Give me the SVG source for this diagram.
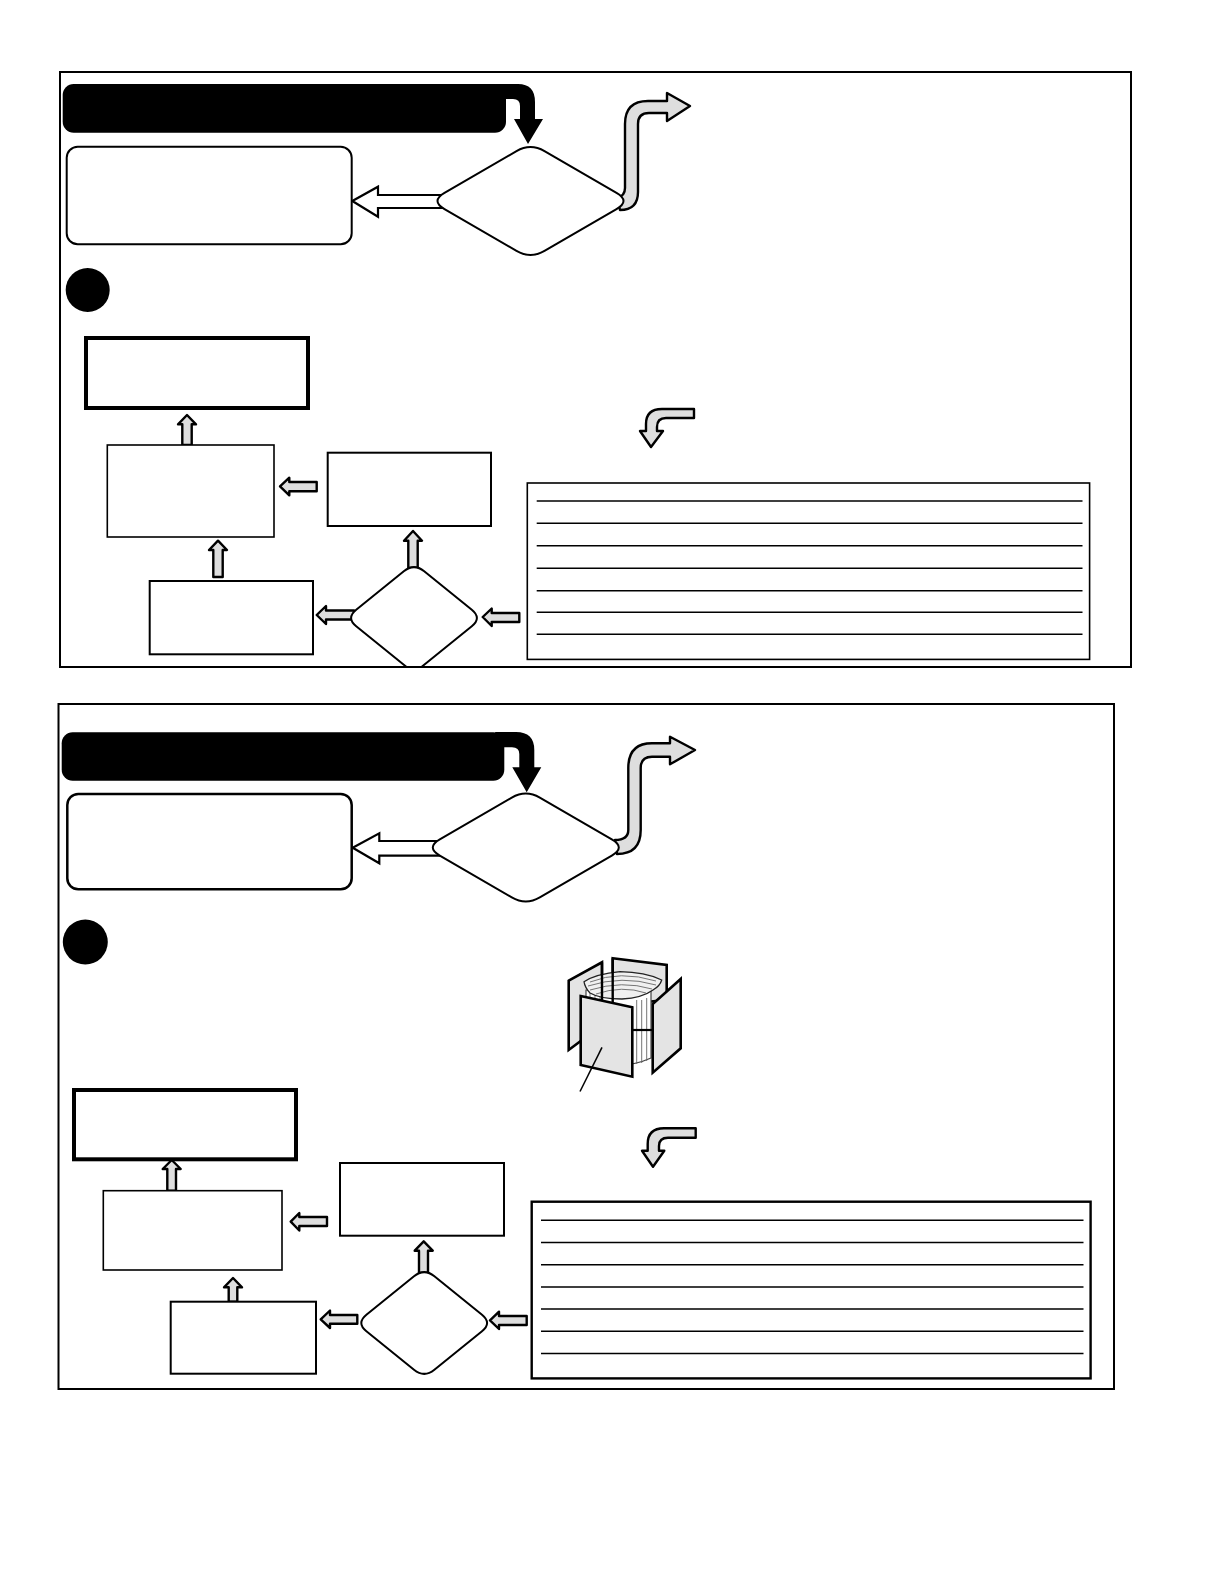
<svg xmlns="http://www.w3.org/2000/svg" width="1225" height="1585" viewBox="0 0 1225 1585">
<style>
.frame{fill:#fff;stroke:#000;stroke-width:2}
.node{fill:#fff;stroke:#000;stroke-width:2}
.thin{fill:#fff;stroke:#000;stroke-width:1.6}
.thick{fill:#fff;stroke:#000;stroke-width:4}
.black{fill:#000;stroke:none}
.white{fill:#fff;stroke:#000;stroke-width:2.2}
.gray{fill:#dedede;stroke:#000;stroke-width:2.4;stroke-linejoin:round}
.rule{stroke:#000;stroke-width:1.5;fill:none}
.panel{fill:#e4e4e4;stroke:#000;stroke-width:2.6;stroke-linejoin:miter}
.fin{stroke:#666;stroke-width:.9;fill:none}
</style>
<rect width="1225" height="1585" fill="#fff"/>
<g id="frames">
<rect class="frame" x="60" y="72" width="1071" height="595"/>
<rect class="frame" x="58.500" y="704" width="1055.500" height="685"/>
</g>
<g id="connectors">
<path class="white" d="M352.300 201L378 186.700V195H445V208H378V216.700Z"/>
<path class="gray" d="M620 210Q638 210 638 192V124Q638 113 649 113H667V121L690 106L667 93V101H648Q625 101 625 124V188Q625 196 617 198Z"/>
<path class="black" d="M495 84H518Q535 84 535 102V119H543L528 144L514 119H520V106Q520 99 513 99H500Z"/>
<path class="gray" d="M187 415L196 424.300H191.700V445H182.300V424.300H178Z"/>
<path class="gray" d="M218 540.700L227 550H222.700V577H213.300V550H209Z"/>
<path class="gray" d="M413 531L422 540.700H417.700V568H408.300V540.700H404Z"/>
<path class="gray" d="M280 486.300L289.300 477.700V482H316.700V491.300H289.300V495.300Z"/>
<path class="gray" d="M316.700 615L326 606V610.500H354V619.500H326V624Z"/>
<path class="gray" d="M482.700 617L491.700 608.500V613H519.300V622H491.700V626Z"/>
<path class="gray" d="M694 409V418H666Q657 418 657 427V431H663L651 447L640 431H646V424Q646 409 662 409Z"/>
<path class="white" d="M352.700 847.700L379.300 833.300V841H440V855.700H379.300V863.300Z"/>
<path class="gray" d="M617 854Q640.700 854 640.700 830V768Q640.700 756.700 652 756.700H670V764.300L695 750L670 736.700V743.300H652Q628.300 743.300 628.300 768V830Q628.300 840 615 840Z"/>
<path class="black" d="M495 732H516Q534.300 732 534.300 750V767.300H541.300L526.700 792.300L512.300 767.300H519.300V754Q519.300 747.300 512 747.300H500Z"/>
<path class="gray" d="M171.700 1160L180.700 1169H176V1190.700H167.300V1169H162.700Z"/>
<path class="gray" d="M233 1278L242 1287.300H237.300V1301.700H228.700V1287.300H224Z"/>
<path class="gray" d="M423.700 1241.300L432.700 1250.700H428V1273H419V1250.700H414.700Z"/>
<path class="gray" d="M290.700 1221.700L299.300 1213V1217H327V1226H299.300V1230.500Z"/>
<path class="gray" d="M320.700 1319.300L330 1310.500V1315H357.300V1323.700H330V1328Z"/>
<path class="gray" d="M490 1320.300L499 1311.700V1316H526.700V1325H499V1329Z"/>
<path class="gray" d="M695.700 1128.300V1137.700H668Q659 1137.700 659 1146V1150.700H664.300L653 1166.700L642 1150.700H647.700V1144Q647.700 1128.300 664 1128.300Z"/>
</g>
<g id="bar-1"><rect class="black" x="62.700" y="84" width="443.300" height="48.700" rx="11"/></g>
<g id="decision-1"><path class="node" d="M444.500 192.900L516.500 151.100Q530.500 143 544.500 151.100L616.500 192.900Q630.500 201 616.500 209.100L544.500 250.900Q530.500 259 516.500 250.900L444.500 209.100Q430.500 201 444.500 192.900Z"/></g>
<g id="result-1"><rect class="node" x="66.700" y="146.700" width="285" height="97.600" rx="11"/></g>
<g id="step-marker-1"><circle class="black" cx="87.700" cy="290" r="22"/></g>
<g id="outcome-1"><rect class="thick" x="86" y="338" width="222" height="70"/></g>
<g id="box-1a"><rect class="thin" x="107.300" y="445" width="166.700" height="92"/></g>
<g id="box-1b"><rect class="node" x="327.700" y="452.700" width="163.300" height="73.300"/></g>
<g id="box-1c"><rect class="node" x="149.700" y="581" width="163.300" height="73.300"/></g>
<g id="decision-2"><path class="node" d="M356.200 609.750L403.800 571.250Q414 563 424.200 571.250L471.800 609.750Q482 618 471.800 626.250L424.200 664.750L421.400 667H406.600L403.800 664.750L356.200 626.250Q346 618 356.200 609.750Z"/></g>
<g id="list-1">
<rect class="thin" x="527.300" y="483" width="562.300" height="176.400"/>
<path class="rule" d="M536.700 501H1082.500M536.700 523.300H1082.500M536.700 545.700H1082.500M536.700 568.300H1082.500M536.700 590.700H1082.500M536.700 612.300H1082.500M536.700 634.300H1082.500"/>
</g>
<g id="bar-2"><rect class="black" x="61.700" y="732.300" width="442.600" height="48.400" rx="11"/></g>
<g id="decision-3"><path class="node" d="M439.800 839.400L511.800 797.600Q525.800 789.500 539.800 797.600L611.800 839.400Q625.800 847.500 611.800 855.600L539.800 897.400Q525.800 905.500 511.800 897.400L439.800 855.600Q425.800 847.500 439.800 839.400Z"/></g>
<g id="result-2"><rect class="node" style="stroke-width:2.500" x="67.300" y="794" width="284.400" height="95.300" rx="11"/></g>
<g id="step-marker-2"><circle class="black" cx="85.300" cy="942" r="22.500"/></g>
<g id="illustration">
<path class="panel" d="M568.700 980.700L602 962.300V1025L568.700 1050Z"/>
<path class="panel" d="M612.700 958.300L666.700 965V1000L612.700 1005Z"/>
<path d="M586 990V1058Q620 1072 651 1058V990Z" fill="#fff" stroke="#444" stroke-width="1.200"/>
<path class="fin" d="M590 992V1060M595 995V1061M600 997V1062M636.700 1000V1064M641.700 1000V1063M646.700 998V1061"/>
<path d="M584 981.700Q596 974 620 971.700Q645 972 661.700 980Q660 986 653 990Q642 998 622 999Q600 999 590 993Q585 988 584 981.700Z" fill="#f0f0f0" stroke="#222" stroke-width="1.300"/>
<path class="fin" d="M590 982Q620 970 656 981M588 986Q622 975 656 985M590 990Q622 980 652 989M596 994Q622 985 646 993"/>
<path d="M602 962.300V1000M612.700 958.300V1003" stroke="#000" stroke-width="2.400" fill="none"/>
<path d="M631.700 1030H652.700" stroke="#000" stroke-width="2.200" fill="none"/>
<path class="panel" d="M680.700 979V1048.300L652.700 1072.700V1004Z"/>
<path class="panel" d="M580.700 996L632.300 1007.300V1076.700L580.700 1065Z"/>
<path d="M602 1047.300L580 1091.500" stroke="#000" stroke-width="1.500" fill="none"/>
</g>
<g id="outcome-2"><rect class="thick" x="74" y="1090" width="222" height="69.300"/></g>
<g id="box-2a"><rect class="thin" x="103.300" y="1190.700" width="178.700" height="79.300"/></g>
<g id="box-2b"><rect class="node" x="340" y="1163" width="164" height="72.700"/></g>
<g id="box-2c"><rect class="node" x="170.700" y="1301.700" width="145.300" height="72"/></g>
<g id="decision-4"><path class="node" d="M366.400 1314.750L414 1276.250Q424.200 1268 434.400 1276.250L482 1314.750Q492.200 1323 482 1331.250L434.400 1369.750Q424.200 1378 414 1369.750L366.400 1331.250Q356.200 1323 366.400 1314.750Z"/></g>
<g id="list-2">
<rect class="node" style="stroke-width:2.400" x="531.700" y="1201.700" width="558.900" height="176.700"/>
<path class="rule" d="M541 1220.300H1083.500M541 1242.500H1083.500M541 1264.700H1083.500M541 1286.900H1083.500M541 1309.100H1083.500M541 1331.300H1083.500M541 1353.500H1083.500"/>
</g>
</svg>
